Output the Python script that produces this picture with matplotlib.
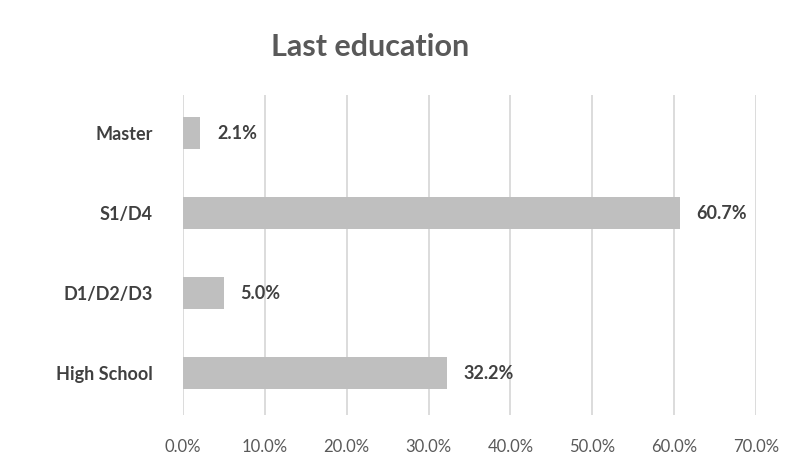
import matplotlib
matplotlib.use("Agg")
import matplotlib.pyplot as plt
from matplotlib.ticker import FuncFormatter

plt.rcParams['font.family'] = ['Lato', 'DejaVu Sans']

categories = ['High School', 'D1/D2/D3', 'S1/D4', 'Master']
shares = [32.2, 5.0, 60.7, 2.1]
value_labels = ['32.2%', '5.0%', '60.7%', '2.1%']
xticks = [0, 10, 20, 30, 40, 50, 60, 70]

fig = plt.figure(figsize=(8.01, 4.68), dpi=100)
ax = fig.add_axes([0.2285, 0.1132, 0.7153, 0.6838])

pos = range(len(categories))
ax.barh(pos, shares, height=0.4, color='#BFBFBF', zorder=2)

# value labels just right of each bar
for p, v, lab in zip(pos, shares, value_labels):
    ax.annotate(lab, (v, p), xytext=(12, 0), textcoords='offset points',
                ha='left', va='center', fontsize=13, fontweight='bold',
                color='#404040', zorder=3)

ax.set_xlim(0, 70)
ax.set_ylim(-0.525, 3.475)
ax.set_xticks(xticks)
ax.xaxis.set_major_formatter(FuncFormatter(lambda x, _: f'{x:.1f}%'))
ax.set_yticks(list(pos))
ax.set_yticklabels(categories, fontsize=13, fontweight='bold', color='#404040')
ax.tick_params(axis='y', length=0, pad=22)
ax.tick_params(axis='x', length=0, pad=17, labelsize=12, labelcolor='#595959')
ax.grid(axis='x', color='#D9D9D9', linewidth=1.3, zorder=1)
ax.set_axisbelow(True)
for s in ax.spines.values():
    s.set_visible(False)

fig.text(0.462, 0.90, 'Last education', ha='center', va='center',
         fontsize=22, fontweight='bold', color='#595959')

fig.savefig('out.png', dpi=100)
